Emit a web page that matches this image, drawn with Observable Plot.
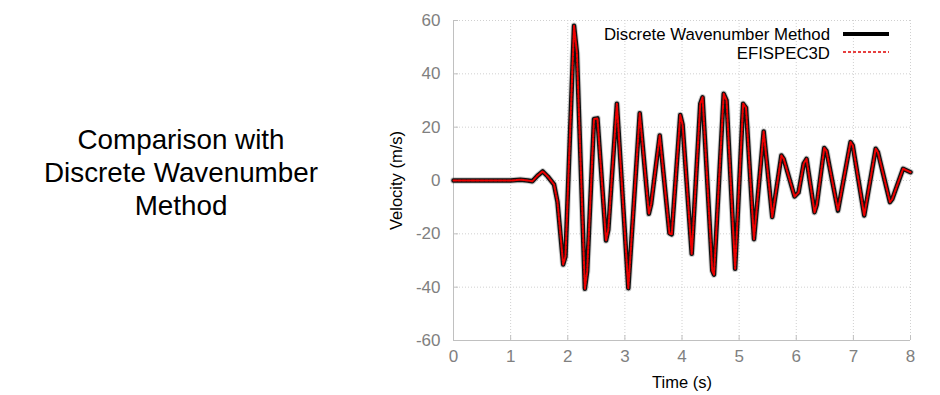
<!DOCTYPE html>
<html>
<head>
<meta charset="utf-8">
<script src="https://cdn.jsdelivr.net/npm/d3@7"></script>
<script src="https://cdn.jsdelivr.net/npm/@observablehq/plot@0.6"></script>
<style>
  body { margin: 0; background: #fff; font-family: "Liberation Sans", Arial, sans-serif; }
  #wrap { position: relative; width: 940px; height: 395px; overflow: hidden; }
  #side { position: absolute; left: 0; top: 123px; width: 362px; text-align: center; font-size: 27.8px; line-height: 33px; color: #000; }
  #chart { position: absolute; left: 0; top: 0; }
  .leg { position: absolute; left: 500px; width: 330px; height: 17px; text-align: right; font-size: 16.8px; color: #000; line-height: 17px; }
  .sw { position: absolute; left: 843px; }
  g[aria-label="x-axis label"], g[aria-label="y-axis label"] { fill: #000; }
  g[aria-label="x-axis label"] text, g[aria-label="y-axis label"] text { fill: #000; font-size: 16.5px; }
</style>
</head>
<body>
<div id="wrap">
  <div id="side">Comparison with<br>Discrete Wavenumber<br>Method</div>
  <div id="chart"></div>
  <div class="leg" style="top:25.5px">Discrete Wavenumber Method</div>
  <div class="leg" style="top:44.5px">EFISPEC3D</div>
  <svg class="sw" style="top:28px" width="46" height="30">
    <line x1="0" x2="46" y1="6" y2="6" stroke="#000" stroke-width="4"></line>
    <line x1="0" x2="46" y1="24" y2="24" stroke="#e00000" stroke-width="1.5" stroke-dasharray="3,2"></line>
  </svg>
</div>
<script>
const timeS = [0, 0.5, 1.0, 1.17, 1.3, 1.38, 1.47, 1.56, 1.65, 1.76, 1.82, 1.92, 1.96, 2.11, 2.16, 2.30, 2.34, 2.46, 2.52, 2.67, 2.71, 2.86, 3.06, 3.26, 3.42, 3.46, 3.61, 3.78, 3.82, 3.97, 4.01, 4.17, 4.32, 4.36, 4.53, 4.56, 4.73, 4.78, 4.93, 5.07, 5.12, 5.26, 5.43, 5.58, 5.74, 5.78, 5.97, 6.04, 6.13, 6.18, 6.32, 6.36, 6.49, 6.53, 6.73, 6.95, 6.99, 7.19, 7.39, 7.43, 7.64, 7.68, 7.87, 8.0];
const velocity = [0, 0, 0, 0.3, 0, -0.3, 1.8, 3.4, 1.5, -1.5, -8, -31.5, -28.5, 58, 48, -40.6, -34, 23.1, 23.3, -22.5, -18.5, 28.8, -40.4, 25.2, -12.5, -8.8, 16.9, -19.8, -20.2, 24.6, 21, -27.5, 28.8, 31.2, -33.8, -35.3, 32.5, 30, -33.1, 28.8, 27.3, -22, 18.4, -13.7, 9.4, 8.1, -6, -4.5, 6.3, 8.1, -11.9, -9, 12.2, 11, -11.3, 14.4, 13.1, -13.1, 11.9, 10.6, -8.1, -7, 4.4, 3.1];
const xTicks = [0, 1, 2, 3, 4, 5, 6, 7, 8];
const yTicks = [-60, -40, -20, 0, 20, 40, 60];

const data = timeS.map((t, i) => ({t, v: velocity[i]}));
const fmt = d => String(d);

const chart = Plot.plot({
  width: 940,
  height: 395,
  marginLeft: 453,
  marginRight: 30,
  marginTop: 20,
  marginBottom: 55,
  style: {fontFamily: "'Liberation Sans', Arial, sans-serif", fontSize: "17px", background: "transparent"},
  x: {domain: [0, 8]},
  y: {domain: [-60, 60]},
  marks: [
    Plot.gridX(xTicks, {stroke: "#d0d0d0", strokeOpacity: 1, strokeDasharray: "1,2"}),
    Plot.gridY(yTicks, {stroke: "#d0d0d0", strokeOpacity: 1, strokeDasharray: "1,2"}),
    Plot.ruleX([0], {stroke: "#c0c0c0"}),
    Plot.ruleY([-60], {stroke: "#c0c0c0"}),
    Plot.axisX(xTicks, {tickSize: 5, dy: -5, text: null, stroke: "#c0c0c0", label: null}),
    Plot.axisY(yTicks, {tickSize: 5, dx: 5, text: null, stroke: "#c0c0c0", label: null}),
    Plot.axisX(xTicks, {tickSize: 0, tickPadding: 9, fill: "#808080", tickFormat: fmt, label: "Time (s)", labelAnchor: "center", labelArrow: "none", labelOffset: 47}),
    Plot.axisY(yTicks, {tickSize: 0, tickPadding: 13, fill: "#808080", tickFormat: fmt, label: "Velocity (m/s)", labelAnchor: "center", labelArrow: "none", labelOffset: 63}),
    Plot.line(data, {x: "t", y: "v", stroke: "#000", strokeOpacity: 0.2, strokeWidth: 6.5}),
    Plot.line(data, {x: "t", y: "v", stroke: "#111", strokeWidth: 4.5}),
    Plot.line(data, {x: "t", y: "v", stroke: "#ee0000", strokeWidth: 2, strokeDasharray: "3,1.5"})
  ]
});
document.getElementById("chart").appendChild(chart);
</script>
</body>
</html>
